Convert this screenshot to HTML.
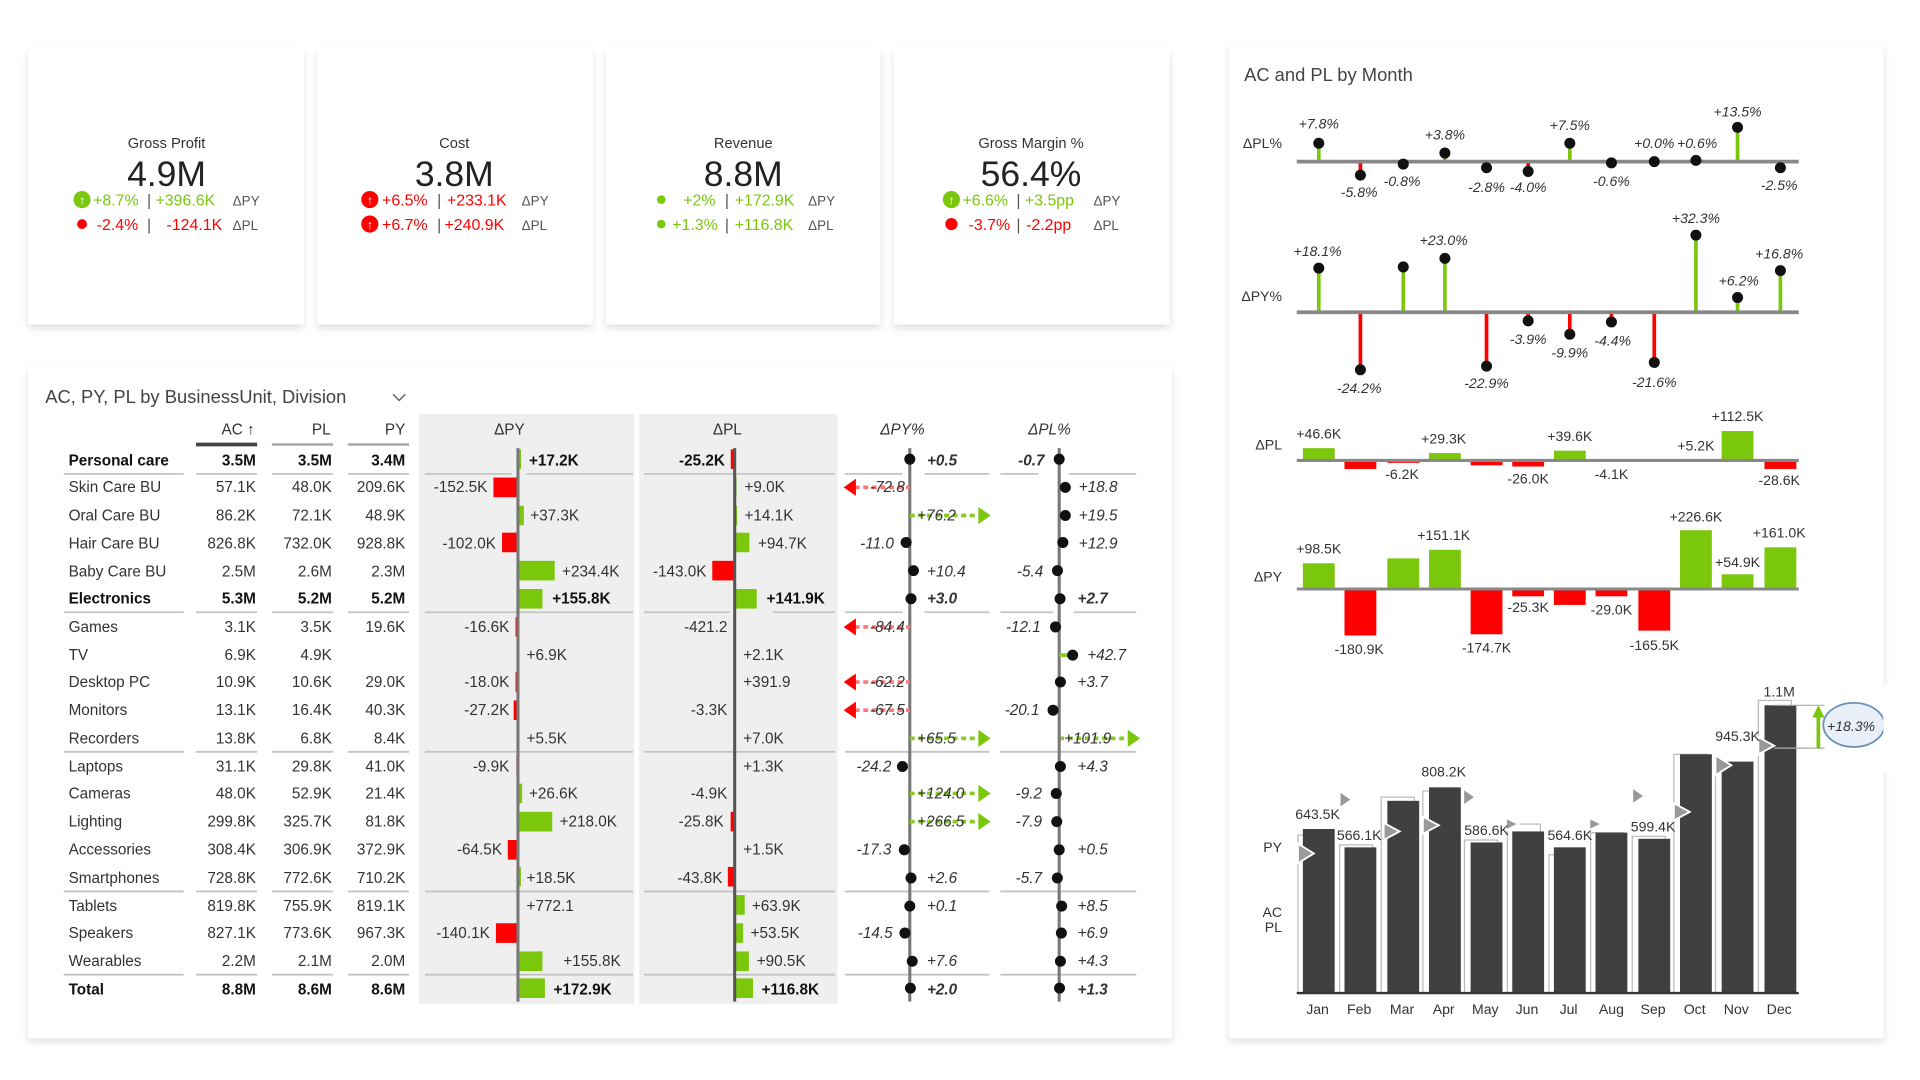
<!DOCTYPE html>
<html><head><meta charset="utf-8"><style>
html,body{margin:0;padding:0;background:#fff;width:1920px;height:1080px;overflow:hidden}
svg{display:block;font-family:"Liberation Sans",sans-serif}
.t{font-size:12.5px;fill:#333}
.b{font-weight:bold;fill:#111}
.r{text-anchor:end}
.m{text-anchor:middle}
.i{font-style:italic;font-size:12.5px;fill:#333}
.s{font-size:11.5px;fill:#333}
.si{font-size:11.5px;fill:#333;font-style:italic}
.g{fill:#7ac70c}.rd{fill:#f00}
</style></head><body>
<svg width="1920" height="1080" viewBox="0 0 1568 882" preserveAspectRatio="none">
<defs>
<filter id="sh" x="-5%" y="-5%" width="110%" height="112%"><feDropShadow dx="0" dy="3" stdDeviation="3" flood-color="#000" flood-opacity="0.13"/></filter>
</defs>
<!-- KPI cards -->
<g filter="url(#sh)" fill="#fff">
<rect x="23" y="40" width="225" height="225"/>
<rect x="259" y="40" width="225" height="225"/>
<rect x="495" y="40" width="224" height="225"/>
<rect x="730" y="40" width="225" height="225"/>
<rect x="23" y="300" width="934" height="548"/>
<rect x="1004" y="36" width="534" height="812"/>
</g>
<g font-size="12" fill="#333" text-anchor="middle">
<text x="136" y="121">Gross Profit</text>
<text x="371" y="121">Cost</text>
<text x="607" y="121">Revenue</text>
<text x="842" y="121">Gross Margin %</text>
</g>
<g font-size="29" fill="#222" text-anchor="middle">
<text x="136" y="152">4.9M</text>
<text x="371" y="152">3.8M</text>
<text x="607" y="152">8.8M</text>
<text x="842" y="152">56.4%</text>
</g>
<g font-size="13">
<circle cx="67" cy="163" r="7" class="g"/><text x="67" y="167" fill="#fff" font-size="10" text-anchor="middle">↑</text>
<text x="76" y="168" class="g">+8.7%</text><text x="120" y="168" fill="#555">|</text><text x="127" y="168" class="g">+396.6K</text><text x="190" y="168" fill="#555" font-size="11">ΔPY</text>
<circle cx="67" cy="183" r="4" class="rd"/>
<text x="79" y="188" class="rd">-2.4%</text><text x="120" y="188" fill="#555">|</text><text x="136" y="188" class="rd">-124.1K</text><text x="190" y="188" fill="#555" font-size="11">ΔPL</text>

<circle cx="302" cy="163" r="7" class="rd"/><text x="302" y="167" fill="#fff" font-size="10" text-anchor="middle">↑</text>
<text x="312" y="168" class="rd">+6.5%</text><text x="357" y="168" fill="#555">|</text><text x="365" y="168" class="rd">+233.1K</text><text x="426" y="168" fill="#555" font-size="11">ΔPY</text>
<circle cx="302" cy="183" r="7" class="rd"/><text x="302" y="187" fill="#fff" font-size="10" text-anchor="middle">↑</text>
<text x="312" y="188" class="rd">+6.7%</text><text x="357" y="188" fill="#555">|</text><text x="363" y="188" class="rd">+240.9K</text><text x="426" y="188" fill="#555" font-size="11">ΔPL</text>

<circle cx="540" cy="163" r="3.5" class="g"/>
<text x="558" y="168" class="g">+2%</text><text x="592" y="168" fill="#555">|</text><text x="600" y="168" class="g">+172.9K</text><text x="660" y="168" fill="#555" font-size="11">ΔPY</text>
<circle cx="540" cy="183" r="3.5" class="g"/>
<text x="549" y="188" class="g">+1.3%</text><text x="592" y="188" fill="#555">|</text><text x="600" y="188" class="g">+116.8K</text><text x="660" y="188" fill="#555" font-size="11">ΔPL</text>

<circle cx="777" cy="163" r="7" class="g"/><text x="777" y="167" fill="#fff" font-size="10" text-anchor="middle">↑</text>
<text x="786" y="168" class="g">+6.6%</text><text x="830" y="168" fill="#555">|</text><text x="837" y="168" class="g">+3.5pp</text><text x="893" y="168" fill="#555" font-size="11">ΔPY</text>
<circle cx="777" cy="183" r="5" class="rd"/>
<text x="791" y="188" class="rd">-3.7%</text><text x="830" y="188" fill="#555">|</text><text x="838" y="188" class="rd">-2.2pp</text><text x="893" y="188" fill="#555" font-size="11">ΔPL</text>
</g>

<!-- Table -->
<text x="37" y="329" font-size="15" fill="#444">AC, PY, PL by BusinessUnit, Division</text>
<path d="M321 322 l5 5 l5 -5" stroke="#666" fill="none" stroke-width="1.2"/>
<rect x="342" y="338" width="176" height="482" fill="#efefef"/>
<rect x="522" y="338" width="162" height="482" fill="#efefef"/>
<g class="t">
<text x="208" y="355" class="t r">AC ↑</text><text x="270" y="355" class="t r">PL</text><text x="331" y="355" class="t r">PY</text>
<text x="416" y="355" class="t m">ΔPY</text><text x="594" y="355" class="t m">ΔPL</text>
<text x="737" y="355" class="i m">ΔPY%</text><text x="857" y="355" class="i m">ΔPL%</text>
</g>
<line x1="160" y1="363" x2="210" y2="363" stroke="#444" stroke-width="3"/>
<line x1="222" y1="363" x2="272" y2="363" stroke="#aaa" stroke-width="2"/>
<line x1="284" y1="363" x2="334" y2="363" stroke="#aaa" stroke-width="2"/>
<g stroke="#c4c4c4" stroke-width="1.5">
<path d="M52 387H150M160 387H210M222 387H272M284 387H334M347 387H418M430 387H517M526 387H682M690 387H737M755 387H808M817 387H848M873 387H928"/>
<path d="M52 500H150M160 500H210M222 500H272M284 500H334M347 500H517M526 500H596M631 500H682M690 500H737M755 500H808M817 500H860M877 500H928"/>
<path d="M52 614H150M160 614H210M222 614H272M284 614H334M347 614H517M526 614H682M690 614H808M817 614H928"/>
<path d="M52 728H150M160 728H210M222 728H272M284 728H334M347 728H517M526 728H682M690 728H808M817 728H928"/>
<path d="M52 796H150M160 796H210M222 796H272M284 796H334M347 796H517M526 796H682M690 796H808M817 796H928"/>
</g>
<!-- names and values -->
<g class="t">
<text x="56" y="380" class="t b">Personal care</text><text x="209" y="380" class="t b r">3.5M</text><text x="271" y="380" class="t b r">3.5M</text><text x="331" y="380" class="t b r">3.4M</text>
<text x="56" y="402">Skin Care BU</text><text x="209" y="402" class="r">57.1K</text><text x="271" y="402" class="r">48.0K</text><text x="331" y="402" class="r">209.6K</text>
<text x="56" y="425">Oral Care BU</text><text x="209" y="425" class="r">86.2K</text><text x="271" y="425" class="r">72.1K</text><text x="331" y="425" class="r">48.9K</text>
<text x="56" y="448">Hair Care BU</text><text x="209" y="448" class="r">826.8K</text><text x="271" y="448" class="r">732.0K</text><text x="331" y="448" class="r">928.8K</text>
<text x="56" y="471">Baby Care BU</text><text x="209" y="471" class="r">2.5M</text><text x="271" y="471" class="r">2.6M</text><text x="331" y="471" class="r">2.3M</text>
<text x="56" y="493" class="t b">Electronics</text><text x="209" y="493" class="t b r">5.3M</text><text x="271" y="493" class="t b r">5.2M</text><text x="331" y="493" class="t b r">5.2M</text>
<text x="56" y="516">Games</text><text x="209" y="516" class="r">3.1K</text><text x="271" y="516" class="r">3.5K</text><text x="331" y="516" class="r">19.6K</text>
<text x="56" y="539">TV</text><text x="209" y="539" class="r">6.9K</text><text x="271" y="539" class="r">4.9K</text>
<text x="56" y="561">Desktop PC</text><text x="209" y="561" class="r">10.9K</text><text x="271" y="561" class="r">10.6K</text><text x="331" y="561" class="r">29.0K</text>
<text x="56" y="584">Monitors</text><text x="209" y="584" class="r">13.1K</text><text x="271" y="584" class="r">16.4K</text><text x="331" y="584" class="r">40.3K</text>
<text x="56" y="607">Recorders</text><text x="209" y="607" class="r">13.8K</text><text x="271" y="607" class="r">6.8K</text><text x="331" y="607" class="r">8.4K</text>
<text x="56" y="630">Laptops</text><text x="209" y="630" class="r">31.1K</text><text x="271" y="630" class="r">29.8K</text><text x="331" y="630" class="r">41.0K</text>
<text x="56" y="652">Cameras</text><text x="209" y="652" class="r">48.0K</text><text x="271" y="652" class="r">52.9K</text><text x="331" y="652" class="r">21.4K</text>
<text x="56" y="675">Lighting</text><text x="209" y="675" class="r">299.8K</text><text x="271" y="675" class="r">325.7K</text><text x="331" y="675" class="r">81.8K</text>
<text x="56" y="698">Accessories</text><text x="209" y="698" class="r">308.4K</text><text x="271" y="698" class="r">306.9K</text><text x="331" y="698" class="r">372.9K</text>
<text x="56" y="721">Smartphones</text><text x="209" y="721" class="r">728.8K</text><text x="271" y="721" class="r">772.6K</text><text x="331" y="721" class="r">710.2K</text>
<text x="56" y="744">Tablets</text><text x="209" y="744" class="r">819.8K</text><text x="271" y="744" class="r">755.9K</text><text x="331" y="744" class="r">819.1K</text>
<text x="56" y="766">Speakers</text><text x="209" y="766" class="r">827.1K</text><text x="271" y="766" class="r">773.6K</text><text x="331" y="766" class="r">967.3K</text>
<text x="56" y="789">Wearables</text><text x="209" y="789" class="r">2.2M</text><text x="271" y="789" class="r">2.1M</text><text x="331" y="789" class="r">2.0M</text>
<text x="56" y="812" class="t b">Total</text><text x="209" y="812" class="t b r">8.8M</text><text x="271" y="812" class="t b r">8.6M</text><text x="331" y="812" class="t b r">8.6M</text>
</g>
<!-- ΔPY bars -->
<g>
<rect x="423" y="367" width="2.5" height="16" class="g"/>
<rect x="403" y="390" width="20" height="16" class="rd"/>
<rect x="423" y="413" width="4.8" height="16" class="g"/>
<rect x="410" y="435" width="13" height="16" class="rd"/>
<rect x="423" y="458" width="30" height="16" class="g"/>
<rect x="423" y="481" width="20" height="16" class="g"/>
<rect x="421" y="504" width="2" height="16" class="rd"/>
<rect x="421" y="549" width="2" height="16" class="rd"/>
<rect x="419.5" y="572" width="3.5" height="16" class="rd"/>
<rect x="421.7" y="617" width="1.3" height="16" class="rd"/>
<rect x="423" y="640" width="3.4" height="16" class="g"/>
<rect x="423" y="663" width="28" height="16" class="g"/>
<rect x="414.7" y="686" width="8.3" height="16" class="rd"/>
<rect x="423" y="708" width="2.4" height="16" class="g"/>
<rect x="405" y="754" width="18" height="16" class="rd"/>
<rect x="423" y="777" width="20" height="16" class="g"/>
<rect x="423" y="799" width="22" height="16" class="g"/>
</g>
<line x1="423" y1="366" x2="423" y2="818" stroke="#777" stroke-width="2.5"/>
<g class="t">
<text x="432" y="380" class="t b">+17.2K</text>
<text x="398" y="402" class="r">-152.5K</text>
<text x="433" y="425">+37.3K</text>
<text x="405" y="448" class="r">-102.0K</text>
<text x="459" y="471">+234.4K</text>
<text x="451" y="493" class="t b">+155.8K</text>
<text x="416" y="516" class="r">-16.6K</text>
<text x="430" y="539">+6.9K</text>
<text x="416" y="561" class="r">-18.0K</text>
<text x="416" y="584" class="r">-27.2K</text>
<text x="430" y="607">+5.5K</text>
<text x="416" y="630" class="r">-9.9K</text>
<text x="432" y="652">+26.6K</text>
<text x="457" y="675">+218.0K</text>
<text x="410" y="698" class="r">-64.5K</text>
<text x="430" y="721">+18.5K</text>
<text x="430" y="744">+772.1</text>
<text x="400" y="766" class="r">-140.1K</text>
<text x="460" y="789">+155.8K</text>
<text x="452" y="812" class="t b">+172.9K</text>
</g>
<!-- ΔPL bars -->
<g>
<rect x="596.8" y="367" width="3.2" height="16" class="rd"/>
<rect x="600" y="390" width="1.5" height="16" class="g"/>
<rect x="600" y="413" width="2" height="16" class="g"/>
<rect x="600" y="435" width="12" height="16" class="g"/>
<rect x="581.7" y="458" width="18.3" height="16" class="rd"/>
<rect x="600" y="481" width="18" height="16" class="g"/>
<rect x="600" y="595" width="1" height="16" class="g"/>
<rect x="596.7" y="663" width="3.3" height="16" class="rd"/>
<rect x="594.4" y="708" width="5.6" height="16" class="rd"/>
<rect x="600" y="731" width="8.2" height="16" class="g"/>
<rect x="600" y="754" width="6.9" height="16" class="g"/>
<rect x="600" y="777" width="11.6" height="16" class="g"/>
<rect x="600" y="799" width="15" height="16" class="g"/>
</g>
<line x1="600" y1="366" x2="600" y2="818" stroke="#555" stroke-width="2.5"/>
<g class="t">
<text x="592" y="380" class="t b r">-25.2K</text>
<text x="608" y="402">+9.0K</text>
<text x="608" y="425">+14.1K</text>
<text x="619" y="448">+94.7K</text>
<text x="577" y="471" class="r">-143.0K</text>
<text x="626" y="493" class="t b">+141.9K</text>
<text x="594" y="516" class="r">-421.2</text>
<text x="607" y="539">+2.1K</text>
<text x="607" y="561">+391.9</text>
<text x="594" y="584" class="r">-3.3K</text>
<text x="607" y="607">+7.0K</text>
<text x="607" y="630">+1.3K</text>
<text x="594" y="652" class="r">-4.9K</text>
<text x="591" y="675" class="r">-25.8K</text>
<text x="607" y="698">+1.5K</text>
<text x="590" y="721" class="r">-43.8K</text>
<text x="614" y="744">+63.9K</text>
<text x="613" y="766">+53.5K</text>
<text x="618" y="789">+90.5K</text>
<text x="622" y="812" class="t b">+116.8K</text>
</g>
<!-- ΔPY% -->
<line x1="743" y1="366" x2="743" y2="818" stroke="#777" stroke-width="2.5"/>
<g stroke-width="3" stroke-dasharray="4 3">
<line x1="698" y1="398" x2="743" y2="398" stroke="#f77"/>
<line x1="743" y1="421" x2="800" y2="421" stroke="#8c2"/>
<line x1="698" y1="512" x2="743" y2="512" stroke="#f77"/>
<line x1="698" y1="557" x2="743" y2="557" stroke="#f77"/>
<line x1="698" y1="580" x2="743" y2="580" stroke="#f77"/>
<line x1="743" y1="603" x2="800" y2="603" stroke="#8c2"/>
<line x1="743" y1="648" x2="800" y2="648" stroke="#8c2"/>
<line x1="743" y1="671" x2="800" y2="671" stroke="#8c2"/>
<line x1="865" y1="603" x2="922" y2="603" stroke="#8c2"/>
</g>
<g>
<path d="M689 398l10-7v14z" class="rd"/><path d="M689 512l10-7v14z" class="rd"/><path d="M689 557l10-7v14z" class="rd"/><path d="M689 580l10-7v14z" class="rd"/>
<path d="M809 421l-10-7v14z" class="g"/><path d="M809 603l-10-7v14z" class="g"/><path d="M809 648l-10-7v14z" class="g"/><path d="M809 671l-10-7v14z" class="g"/><path d="M931 603l-10-7v14z" class="g"/>
</g>
<g fill="#111">
<circle cx="743" cy="375" r="4.5"/><circle cx="740" cy="443" r="4.5"/><circle cx="746" cy="466" r="4.5"/><circle cx="744" cy="489" r="4.5"/>
<circle cx="737" cy="626" r="4.5"/><circle cx="738.5" cy="694" r="4.5"/><circle cx="744" cy="717" r="4.5"/><circle cx="743" cy="740" r="4.5"/><circle cx="739" cy="762" r="4.5"/><circle cx="745" cy="785" r="4.5"/><circle cx="743.5" cy="807" r="4.5"/>
</g>
<g class="i">
<text x="757" y="380" class="i b">+0.5</text>
<text x="739" y="402" class="i r">-72.8</text>
<text x="749" y="425">+76.2</text>
<text x="730" y="448" class="i r">-11.0</text>
<text x="757" y="471">+10.4</text>
<text x="757" y="493" class="i b">+3.0</text>
<text x="739" y="516" class="i r">-84.4</text>
<text x="739" y="561" class="i r">-62.2</text>
<text x="739" y="584" class="i r">-67.5</text>
<text x="749" y="607">+65.5</text>
<text x="728" y="630" class="i r">-24.2</text>
<text x="749" y="652">+124.0</text>
<text x="749" y="675">+266.5</text>
<text x="728" y="698" class="i r">-17.3</text>
<text x="757" y="721">+2.6</text>
<text x="757" y="744">+0.1</text>
<text x="729" y="766" class="i r">-14.5</text>
<text x="757" y="789">+7.6</text>
<text x="757" y="812" class="i b">+2.0</text>
</g>
<!-- ΔPL% -->
<line x1="865" y1="366" x2="865" y2="818" stroke="#777" stroke-width="2.5"/>
<line x1="865" y1="535" x2="876" y2="535" stroke="#8c2" stroke-width="3"/>
<g fill="#111">
<circle cx="865" cy="375" r="4.5"/><circle cx="870" cy="398" r="4.5"/><circle cx="870" cy="421" r="4.5"/><circle cx="868" cy="443" r="4.5"/><circle cx="863.6" cy="466" r="4.5"/><circle cx="865.7" cy="489" r="4.5"/>
<circle cx="862" cy="512" r="4.5"/><circle cx="876" cy="535" r="4.5"/><circle cx="866" cy="557" r="4.5"/><circle cx="860" cy="580" r="4.5"/>
<circle cx="866" cy="626" r="4.5"/><circle cx="862.6" cy="648" r="4.5"/><circle cx="863" cy="671" r="4.5"/><circle cx="865" cy="694" r="4.5"/><circle cx="863.5" cy="717" r="4.5"/>
<circle cx="867" cy="740" r="4.5"/><circle cx="866.8" cy="762" r="4.5"/><circle cx="866" cy="785" r="4.5"/><circle cx="865.3" cy="807" r="4.5"/>
</g>
<g class="i">
<text x="853" y="380" class="i b r">-0.7</text>
<text x="881" y="402">+18.8</text>
<text x="881" y="425">+19.5</text>
<text x="881" y="448">+12.9</text>
<text x="852" y="471" class="i r">-5.4</text>
<text x="880" y="493" class="i b">+2.7</text>
<text x="850" y="516" class="i r">-12.1</text>
<text x="888" y="539">+42.7</text>
<text x="880" y="561">+3.7</text>
<text x="849" y="584" class="i r">-20.1</text>
<text x="869" y="607">+101.9</text>
<text x="880" y="630">+4.3</text>
<text x="851" y="652" class="i r">-9.2</text>
<text x="851" y="675" class="i r">-7.9</text>
<text x="880" y="698">+0.5</text>
<text x="851" y="721" class="i r">-5.7</text>
<text x="880" y="744">+8.5</text>
<text x="880" y="766">+6.9</text>
<text x="880" y="789">+4.3</text>
<text x="880" y="812" class="i b">+1.3</text>
</g>

<!-- Right chart -->
<text x="1016" y="66" font-size="15" fill="#444">AC and PL by Month</text>
<g class="s">
<text x="1047" y="121" class="s r">ΔPL%</text>
<text x="1047" y="246" class="s r">ΔPY%</text>
<text x="1047" y="367" class="s r">ΔPL</text>
<text x="1047" y="475" class="s r">ΔPY</text>
<text x="1047" y="696" class="s r">PY</text>
<text x="1047" y="749" class="s r">AC</text>
<text x="1047" y="761" class="s r">PL</text>
</g>
<!-- ΔPL% lollipops -->
<g stroke-width="3">
<line x1="1077" y1="132" x2="1077" y2="117" stroke="#7ac70c"/><line x1="1111" y1="132" x2="1111" y2="143" stroke="#f00"/><line x1="1180" y1="132" x2="1180" y2="125" stroke="#7ac70c"/><line x1="1214" y1="132" x2="1214" y2="137" stroke="#f00"/><line x1="1248" y1="132" x2="1248" y2="140" stroke="#f00"/><line x1="1282" y1="132" x2="1282" y2="117" stroke="#7ac70c"/><line x1="1419" y1="132" x2="1419" y2="104" stroke="#7ac70c"/><line x1="1454" y1="132" x2="1454" y2="137" stroke="#f00"/>
</g>
<line x1="1059" y1="132" x2="1469" y2="132" stroke="#888" stroke-width="3"/>
<g fill="#111">
<circle cx="1077" cy="117" r="4.5"/><circle cx="1111" cy="143" r="4.5"/><circle cx="1146" cy="134" r="4.5"/><circle cx="1180" cy="125" r="4.5"/><circle cx="1214" cy="137" r="4.5"/><circle cx="1248" cy="140" r="4.5"/><circle cx="1282" cy="117" r="4.5"/><circle cx="1316" cy="133" r="4.5"/><circle cx="1351" cy="132" r="4.5"/><circle cx="1385" cy="131" r="4.5"/><circle cx="1419" cy="104" r="4.5"/><circle cx="1454" cy="137" r="4.5"/>
</g>
<g class="si" text-anchor="middle">
<text x="1077" y="105">+7.8%</text><text x="1110" y="161">-5.8%</text><text x="1145" y="152">-0.8%</text><text x="1180" y="114">+3.8%</text><text x="1214" y="157">-2.8%</text><text x="1248" y="157">-4.0%</text><text x="1282" y="106">+7.5%</text><text x="1316" y="152">-0.6%</text><text x="1351" y="121">+0.0%</text><text x="1386" y="121">+0.6%</text><text x="1419" y="95">+13.5%</text><text x="1453" y="155">-2.5%</text>
</g>
<!-- ΔPY% lollipops -->
<g stroke-width="3">
<line x1="1077" y1="255" x2="1077" y2="219" stroke="#7ac70c"/><line x1="1111" y1="255" x2="1111" y2="302" stroke="#f00"/><line x1="1146" y1="255" x2="1146" y2="218" stroke="#7ac70c"/><line x1="1180" y1="255" x2="1180" y2="211" stroke="#7ac70c"/><line x1="1214" y1="255" x2="1214" y2="299" stroke="#f00"/><line x1="1248" y1="255" x2="1248" y2="262" stroke="#f00"/><line x1="1282" y1="255" x2="1282" y2="273" stroke="#f00"/><line x1="1316" y1="255" x2="1316" y2="263" stroke="#f00"/><line x1="1351" y1="255" x2="1351" y2="296" stroke="#f00"/><line x1="1385" y1="255" x2="1385" y2="192" stroke="#7ac70c"/><line x1="1419" y1="255" x2="1419" y2="243" stroke="#7ac70c"/><line x1="1454" y1="255" x2="1454" y2="221" stroke="#7ac70c"/>
</g>
<line x1="1059" y1="255" x2="1469" y2="255" stroke="#888" stroke-width="3"/>
<g fill="#111">
<circle cx="1077" cy="219" r="4.5"/><circle cx="1111" cy="302" r="4.5"/><circle cx="1146" cy="218" r="4.5"/><circle cx="1180" cy="211" r="4.5"/><circle cx="1214" cy="299" r="4.5"/><circle cx="1248" cy="262" r="4.5"/><circle cx="1282" cy="273" r="4.5"/><circle cx="1316" cy="263" r="4.5"/><circle cx="1351" cy="296" r="4.5"/><circle cx="1385" cy="192" r="4.5"/><circle cx="1419" cy="243" r="4.5"/><circle cx="1454" cy="221" r="4.5"/>
</g>
<g class="si" text-anchor="middle">
<text x="1076" y="209">+18.1%</text><text x="1110" y="321">-24.2%</text><text x="1179" y="200">+23.0%</text><text x="1214" y="317">-22.9%</text><text x="1248" y="281">-3.9%</text><text x="1282" y="292">-9.9%</text><text x="1317" y="282">-4.4%</text><text x="1351" y="316">-21.6%</text><text x="1385" y="182">+32.3%</text><text x="1420" y="233">+6.2%</text><text x="1453" y="211">+16.8%</text>
</g>
<!-- ΔPL bars -->
<g>
<rect x="1064" y="366" width="26" height="10" class="g"/>
<rect x="1098" y="376" width="26" height="7" class="rd"/>
<rect x="1133" y="376" width="26" height="2" class="rd"/>
<rect x="1167" y="370" width="26" height="6" class="g"/>
<rect x="1201" y="376" width="26" height="4" class="rd"/>
<rect x="1235" y="376" width="26" height="5" class="rd"/>
<rect x="1269" y="368" width="26" height="8" class="g"/>
<rect x="1303" y="376" width="26" height="1" class="rd"/>
<rect x="1372" y="375" width="26" height="1" class="g"/>
<rect x="1406" y="352" width="26" height="24" class="g"/>
<rect x="1441" y="376" width="26" height="7" class="rd"/>
</g>
<line x1="1059" y1="376" x2="1469" y2="376" stroke="#888" stroke-width="2.5"/>
<g class="s" text-anchor="middle">
<text x="1077" y="358">+46.6K</text><text x="1145" y="391">-6.2K</text><text x="1179" y="362">+29.3K</text><text x="1248" y="395">-26.0K</text><text x="1282" y="360">+39.6K</text><text x="1316" y="391">-4.1K</text><text x="1385" y="368">+5.2K</text><text x="1419" y="344">+112.5K</text><text x="1453" y="396">-28.6K</text>
</g>
<!-- ΔPY bars -->
<g>
<rect x="1064" y="460" width="26" height="21" class="g"/>
<rect x="1098" y="481" width="26" height="38" class="rd"/>
<rect x="1133" y="456" width="26" height="25" class="g"/>
<rect x="1167" y="449" width="26" height="32" class="g"/>
<rect x="1201" y="481" width="26" height="37" class="rd"/>
<rect x="1235" y="481" width="26" height="6" class="rd"/>
<rect x="1269" y="481" width="26" height="13" class="rd"/>
<rect x="1303" y="481" width="26" height="6" class="rd"/>
<rect x="1338" y="481" width="26" height="34" class="rd"/>
<rect x="1372" y="433" width="26" height="48" class="g"/>
<rect x="1406" y="469" width="26" height="12" class="g"/>
<rect x="1441" y="447" width="26" height="34" class="g"/>
</g>
<line x1="1059" y1="481" x2="1469" y2="481" stroke="#888" stroke-width="2.5"/>
<g class="s" text-anchor="middle">
<text x="1077" y="452">+98.5K</text><text x="1110" y="534">-180.9K</text><text x="1179" y="441">+151.1K</text><text x="1214" y="533">-174.7K</text><text x="1248" y="500">-25.3K</text><text x="1316" y="502">-29.0K</text><text x="1351" y="531">-165.5K</text><text x="1385" y="426">+226.6K</text><text x="1419" y="463">+54.9K</text><text x="1453" y="439">+161.0K</text>
</g>
<!-- AC/PL/PY bars -->
<g fill="#fff" stroke="#bbb" stroke-width="1">
<rect x="1060" y="682" width="27" height="129"/><rect x="1094" y="690" width="27" height="121"/><rect x="1128" y="651" width="27" height="160"/><rect x="1162" y="646" width="27" height="165"/><rect x="1196" y="686" width="27" height="125"/><rect x="1231" y="673" width="27" height="138"/><rect x="1265" y="698" width="27" height="113"/><rect x="1299" y="680" width="27" height="131"/><rect x="1333" y="683" width="27" height="128"/><rect x="1367" y="616" width="27" height="195"/><rect x="1401" y="625" width="27" height="186"/><rect x="1436" y="572" width="27" height="239"/>
</g>
<g fill="#404040">
<rect x="1064" y="677" width="26" height="134"/><rect x="1098" y="692" width="26" height="119"/><rect x="1133" y="654" width="26" height="157"/><rect x="1167" y="643" width="26" height="168"/><rect x="1201" y="688" width="26" height="123"/><rect x="1235" y="679" width="26" height="132"/><rect x="1269" y="692" width="26" height="119"/><rect x="1303" y="680" width="26" height="131"/><rect x="1338" y="685" width="26" height="126"/><rect x="1372" y="616" width="26" height="195"/><rect x="1406" y="622" width="26" height="189"/><rect x="1441" y="576" width="26" height="235"/>
</g>
<g fill="#999" stroke="#fff" stroke-width="1.5">
<path d="M1060 689l13 8l-13 8z"/><path d="M1094 646l10 7l-10 7z"/><path d="M1130 672l13 7l-13 7z"/><path d="M1162 667l13 7l-13 7z"/><path d="M1195 644l10 7l-10 7z"/><path d="M1230 668l10 5l-10 5z"/><path d="M1298 668l10 5l-10 5z"/><path d="M1333 643l10 7l-10 7z"/><path d="M1367 656l13 7l-13 7z"/><path d="M1401 617l13 8l-13 8z"/><path d="M1436 602l13 7l-13 7z"/>
</g>
<line x1="1059" y1="811" x2="1469" y2="811" stroke="#333" stroke-width="2"/>
<line x1="1449" y1="576" x2="1490" y2="576" stroke="#aaa"/><line x1="1449" y1="611" x2="1490" y2="611" stroke="#aaa"/>
<line x1="1485" y1="611" x2="1485" y2="584" stroke="#7ac70c" stroke-width="3"/><path d="M1480 586l5-10l5 10z" fill="#7ac70c"/>
<ellipse cx="1514" cy="592" rx="25" ry="18" fill="#e8eff8" stroke="#6a93b8" stroke-width="1.5"/>
<rect x="1538" y="560" width="30" height="70" fill="#fff"/>
<text x="1492" y="597" class="si">+18.3%</text>
<g class="s" text-anchor="middle">
<text x="1076" y="669">643.5K</text><text x="1110" y="686">566.1K</text><text x="1179" y="634">808.2K</text><text x="1214" y="682">586.6K</text><text x="1282" y="686">564.6K</text><text x="1350" y="679">599.4K</text><text x="1419" y="605">945.3K</text><text x="1453" y="569">1.1M</text>
</g>
<g class="s" text-anchor="middle" fill="#444">
<text x="1076" y="828">Jan</text><text x="1110" y="828">Feb</text><text x="1145" y="828">Mar</text><text x="1179" y="828">Apr</text><text x="1213" y="828">May</text><text x="1247" y="828">Jun</text><text x="1281" y="828">Jul</text><text x="1316" y="828">Aug</text><text x="1350" y="828">Sep</text><text x="1384" y="828">Oct</text><text x="1418" y="828">Nov</text><text x="1453" y="828">Dec</text>
</g>
</svg>
</body></html>
